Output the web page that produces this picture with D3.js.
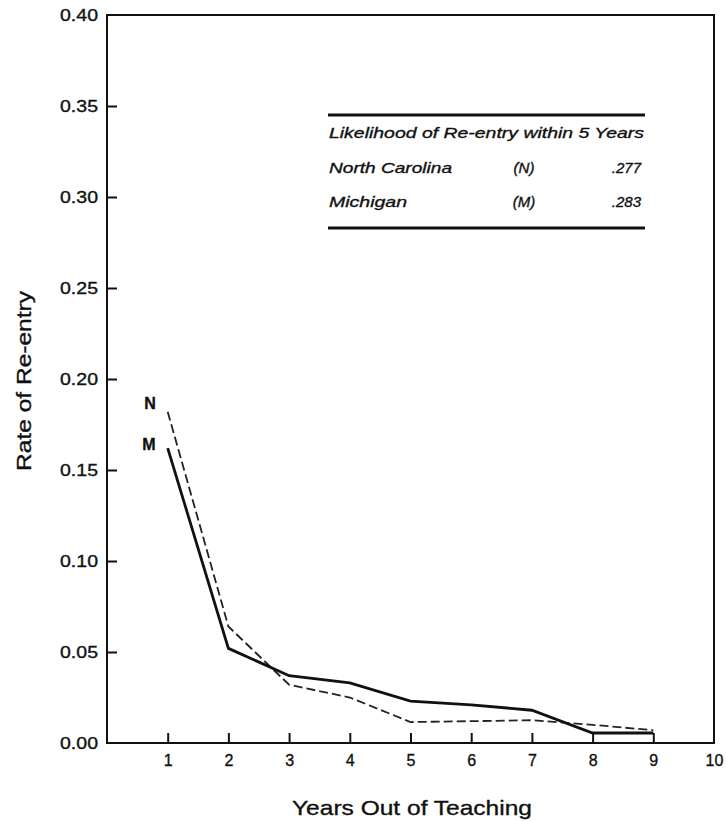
<!DOCTYPE html>
<html>
<head>
<meta charset="utf-8">
<script src="https://cdn.jsdelivr.net/npm/d3@7"></script>
<style>
  body { margin: 0; background: #fff; }
  svg { display: block; font-family: "Liberation Sans", Arial, sans-serif; }
  svg text { stroke: #111; stroke-width: 0.35px; }
</style>
</head>
<body>
<svg></svg>
<script>
const width = 727;
const height = 821;

// years out of teaching
var years = [1, 2, 3, 4, 5, 6, 7, 8, 9];
// rate of re-entry, North Carolina (N, dashed) and Michigan (M, solid)
var northCarolina = [0.182, 0.064, 0.032, 0.025, 0.0115, 0.012, 0.0125, 0.010, 0.007];
var michigan = [0.162, 0.052, 0.037, 0.033, 0.023, 0.021, 0.018, 0.0055, 0.0055];

var yTicks = [0, 0.05, 0.10, 0.15, 0.20, 0.25, 0.30, 0.35, 0.40];
var xTicks = [1, 2, 3, 4, 5, 6, 7, 8, 9, 10];

// table in the upper right
var tableTitle = "Likelihood of Re-entry within 5 Years";
var tableStates = ["North Carolina", "Michigan"];
var tableCodes = ["(N)", "(M)"];
var tableValues = [".277", ".283"];

var mLeft = 107, mRight = 714, mTop = 15, mBottom = 743;

var xScale = d3.scaleLinear().domain([0, 10]).range([mLeft, mRight]);
var yScale = d3.scaleLinear().domain([0, 0.40]).range([mBottom, mTop]);

var svg = d3.select("svg").attr("width", width).attr("height", height);

// frame
svg.append("rect")
    .attr("x", mLeft).attr("y", mTop)
    .attr("width", mRight - mLeft).attr("height", mBottom - mTop)
    .attr("fill", "none").attr("stroke", "#111").attr("stroke-width", 2);

// y axis, ticks inward
var yAxis = d3.axisLeft(yScale)
    .tickValues(yTicks)
    .tickFormat(d3.format(".2f"))
    .tickSize(-10)
    .tickPadding(9);
var gy = svg.append("g").attr("transform", `translate(${mLeft},0)`).call(yAxis);
gy.select(".domain").remove();
gy.selectAll(".tick line").attr("stroke", "#111").attr("stroke-width", 2)
    .filter(d => d == 0 || d == 0.40).remove();
gy.selectAll(".tick text").attr("font-size", 17).attr("fill", "#111")
    .attr("font-family", "Liberation Sans, Arial, sans-serif")
    .attr("textLength", 38).attr("lengthAdjust", "spacingAndGlyphs");

// x axis, ticks inward
var xAxis = d3.axisBottom(xScale)
    .tickValues(xTicks)
    .tickFormat(d3.format("d"))
    .tickSize(-10)
    .tickPadding(12);
var gx = svg.append("g").attr("transform", `translate(0,${mBottom})`).call(xAxis);
gx.select(".domain").remove();
gx.selectAll(".tick line").attr("stroke", "#111").attr("stroke-width", 2)
    .filter(d => d == 10).remove();
gx.selectAll(".tick text").attr("font-size", 16).attr("fill", "#111")
    .attr("font-family", "Liberation Sans, Arial, sans-serif");

// axis titles
svg.append("text")
    .attr("transform", `translate(31,381) rotate(-90)`)
    .attr("text-anchor", "middle")
    .attr("font-size", 20)
    .attr("fill", "#111")
    .attr("textLength", 180).attr("lengthAdjust", "spacingAndGlyphs")
    .text("Rate of Re-entry");

svg.append("text")
    .attr("x", 412).attr("y", 815)
    .attr("text-anchor", "middle")
    .attr("font-size", 21)
    .attr("fill", "#111")
    .attr("textLength", 240).attr("lengthAdjust", "spacingAndGlyphs")
    .text("Years Out of Teaching");

// lines
var line = d3.line()
    .x((d, i) => xScale(years[i]))
    .y(d => yScale(d));

svg.append("path")
    .attr("d", line(northCarolina))
    .attr("fill", "none")
    .attr("stroke", "#222")
    .attr("stroke-width", 1.8)
    .attr("stroke-dasharray", "9,4");

svg.append("path")
    .attr("d", line(michigan))
    .attr("fill", "none")
    .attr("stroke", "#111")
    .attr("stroke-width", 2.8);

// N / M labels
svg.append("text")
    .attr("x", 150).attr("y", 409)
    .attr("font-size", 16).attr("font-weight", "bold")
    .attr("text-anchor", "middle").attr("fill", "#111")
    .text("N");
svg.append("text")
    .attr("x", 149).attr("y", 450)
    .attr("font-size", 16).attr("font-weight", "bold")
    .attr("text-anchor", "middle").attr("fill", "#111")
    .text("M");

// table
var tbl = svg.append("g").attr("font-style", "italic").attr("font-size", 15).attr("fill", "#111");
tbl.append("line").attr("x1", 328).attr("x2", 645).attr("y1", 115).attr("y2", 115)
    .attr("stroke", "#111").attr("stroke-width", 3);
tbl.append("line").attr("x1", 328).attr("x2", 645).attr("y1", 228).attr("y2", 228)
    .attr("stroke", "#111").attr("stroke-width", 3);
tbl.append("text").attr("x", 329).attr("y", 138)
    .attr("textLength", 315).attr("lengthAdjust", "spacingAndGlyphs")
    .text(tableTitle);
var stateWidths = [123, 78];
tableStates.forEach((s, i) => {
    var y = 173 + i * 34;
    tbl.append("text").attr("x", 329).attr("y", y)
        .attr("textLength", stateWidths[i]).attr("lengthAdjust", "spacingAndGlyphs")
        .text(s);
    tbl.append("text").attr("x", 524).attr("y", y).attr("text-anchor", "middle").text(tableCodes[i]);
    tbl.append("text").attr("x", 641).attr("y", y).attr("text-anchor", "end").text(tableValues[i]);
});
</script>
</body>
</html>
